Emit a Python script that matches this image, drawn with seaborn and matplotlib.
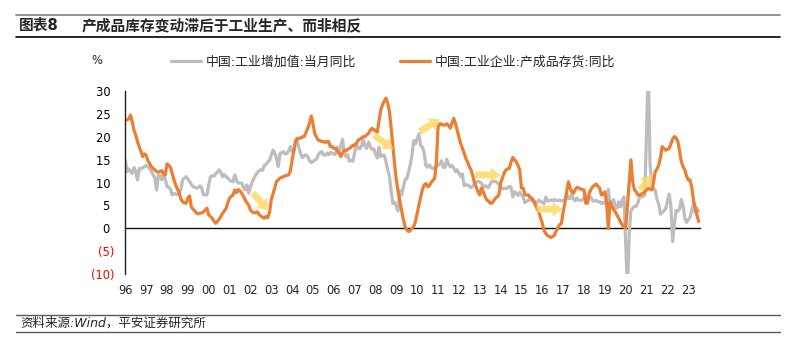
import numpy as np
import pandas as pd
import matplotlib
matplotlib.use("Agg")
import matplotlib.pyplot as plt
from matplotlib.lines import Line2D
import seaborn as sns

# ---------------- data ----------------
years = list(range(1996, 2024))
year_labels = [f"{y % 100:02d}" for y in years]
nan = np.nan

series_names = ["中国:工业增加值:当月同比", "中国:工业企业:产成品存货:同比"]

# 中国:工业增加值:当月同比 (monthly, Jan 1996 - Jul 2023)
ip_yoy = [
    15.0, 12.4, 13.0, 12.5, 12.0, 13.3, 12.5, 10.6, 13.1, 13.0, 13.3, 13.5,  # 1996
    13.8, 13.5, 13.1, 12.5, 11.7, 11.0, 8.4, 11.7, 11.5, 10.6, 12.0, 10.8,   # 1997
    9.1, 9.0, 8.5, 7.3, 7.6, 7.5, 7.4, 7.8, 8.5, 10.6, 11.0, 11.3,           # 1998
    10.8, 10.2, 9.6, 9.1, 9.0, 8.8, 8.9, 9.3, 8.8, 7.3, 7.4, 7.3,            # 1999
    9.5, 11.3, 11.5, 11.4, 11.9, 12.3, 12.8, 12.2, 11.3, 11.8, 11.3, 11.0,   # 2000
    10.6, 10.3, 10.2, 11.7, 10.5, 9.9, 9.9, 9.9, 9.0, 8.4, 9.5, 7.7,         # 2001
    9.0, 10.2, 10.9, 11.7, 12.2, 12.6, 12.8, 12.7, 13.8, 14.0, 14.5, 14.9,   # 2002
    16.0, 17.1, 16.5, 15.3, 13.5, 16.4, 16.5, 16.8, 16.3, 16.4, 17.0, 17.9,  # 2003
    16.8, 16.8, 19.4, 19.1, 17.5, 16.2, 15.5, 15.9, 16.1, 15.7, 14.8, 14.4,  # 2004
    14.6, 15.0, 15.1, 16.0, 16.6, 16.8, 16.1, 16.0, 16.5, 16.1, 16.6, 16.5,  # 2005
    16.2, 16.2, 17.8, 16.6, 17.9, 19.5, 16.7, 15.7, 16.1, 14.7, 14.9, 14.7,  # 2006
    nan, 18.5, 17.6, 17.4, 18.1, 19.4, 18.0, 17.5, 18.9, 17.9, 17.3, 17.4,   # 2007
    nan, 15.4, 17.8, 15.7, 16.0, 16.0, 14.7, 12.8, 11.4, 8.2, 5.4, 5.7,      # 2008
    nan, 3.8, 8.3, 7.3, 8.9, 10.7, 10.8, 12.3, 13.9, 16.1, 19.2, 18.5,       # 2009
    nan, 20.7, 18.1, 17.8, 16.5, 13.7, 13.4, 13.9, 13.3, 13.1, 13.3, 13.5,   # 2010
    nan, 14.1, 14.8, 13.4, 13.3, 15.1, 14.0, 13.5, 13.8, 13.2, 12.4, 12.8,   # 2011
    nan, 11.4, 11.9, 9.3, 9.6, 9.5, 9.2, 8.9, 9.2, 9.6, 10.1, 10.3,          # 2012
    nan, 9.9, 8.9, 9.3, 9.2, 8.9, 9.7, 10.4, 10.2, 10.3, 10.0, 9.7,          # 2013
    nan, 8.6, 8.8, 8.7, 8.8, 9.2, 9.0, 6.9, 8.0, 7.7, 7.2, 7.9,              # 2014
    nan, 6.8, 5.6, 5.9, 6.1, 6.8, 6.0, 6.1, 5.7, 5.6, 6.2, 5.9,              # 2015
    nan, 5.4, 6.8, 6.0, 6.0, 6.2, 6.0, 6.3, 6.1, 6.1, 6.2, 6.0,              # 2016
    nan, 6.3, 7.6, 6.5, 6.5, 7.6, 6.4, 6.0, 6.6, 6.2, 6.1, 6.2,              # 2017
    nan, 7.2, 6.0, 7.0, 6.8, 6.0, 6.0, 6.1, 5.8, 5.9, 5.4, 5.7,              # 2018
    nan, 5.3, 8.5, 5.4, 5.0, 6.3, 4.8, 4.4, 5.8, 4.7, 6.2, 6.9,              # 2019
    nan, -13.5, -1.1, 3.9, 4.4, 4.8, 4.8, 5.6, 6.9, 6.9, 7.0, 7.3,           # 2020
    nan, 35.1, 14.1, 9.8, 8.8, 8.3, 6.4, 5.3, 3.1, 3.5, 3.8, 4.3,            # 2021
    nan, 7.5, 5.0, -2.9, 0.7, 3.9, 3.8, 4.2, 6.3, 5.0, 2.2, 1.3,             # 2022
    nan, 2.4, 3.9, 5.6, 3.5, 4.4, 3.7,                                       # 2023
]

# 中国:工业企业:产成品存货:同比 (monthly, Jan 1996 - Jul 2023)
inv_yoy = [
    nan, 23.7, 24.0, 24.8, 23.3, 21.5, 20.4, 19.0, 17.9, 16.8, 15.7, 16.3,   # 1996
    16.0, 14.8, 14.2, 13.5, 13.1, 12.8, 12.4, 12.3, 12.5, 12.6, 12.0, 11.7,  # 1997
    14.1, 13.8, 13.4, 12.0, 10.6, 9.5, 8.6, 7.8, 6.4, 5.8, 5.6, 5.5,         # 1998
    6.6, 7.1, 4.7, 4.2, 3.8, 3.3, 3.2, 3.3, 3.4, 3.6, 4.0, 4.4,              # 1999
    2.9, 2.6, 2.2, 1.6, 1.1, 1.5, 2.0, 2.6, 3.3, 3.8, 4.4, 5.6,              # 2000
    6.6, 7.0, 7.3, 8.4, 7.8, 8.5, 8.2, 7.7, 7.0, 6.2, 5.6, 5.1,              # 2001
    4.0, 3.6, 3.4, 3.4, 3.6, 3.0, 2.7, 2.4, 2.2, 2.6, 2.3, 3.5,              # 2002
    6.2, 7.5, 8.8, 10.2, 10.6, 11.0, 11.2, 11.3, 11.5, 11.6, 11.7, 12.5,     # 2003
    15.0, 17.0, 19.0, 19.7, 19.7, 19.8, 20.0, 20.1, 21.0, 21.9, 23.0, 24.6,  # 2004
    23.0, 20.8, 20.0, 19.3, 19.2, 19.0, 19.0, 18.8, 19.0, 19.0, 17.9, 17.9,  # 2005
    17.5, 17.5, 17.0, 16.5, 15.7, 16.5, 17.1, 17.0, 17.3, 17.5, 17.8, 18.2,  # 2006
    18.2, 18.6, 19.3, 19.5, 19.8, 20.1, 20.1, 20.5, 20.8, 21.5, 21.9, 21.5,  # 2007
    21.5, 21.0, 23.5, 25.9, 27.0, 27.8, 28.5, 27.5, 25.6, 22.0, 17.9, 14.0,  # 2008
    10.6, 8.0, 6.0, 4.0, 2.0, 0.4, -0.3, -0.7, -0.5, 0.0, 0.4, 1.5,          # 2009
    3.3, 5.0, 6.9, 8.5, 9.5, 9.8, 9.1, 9.3, 10.0, 10.5, 10.9, 14.2,          # 2010
    22.2, 22.9, 22.8, 22.6, 22.6, 22.9, 22.5, 21.9, 23.0, 24.1, 23.0, 21.5,  # 2011
    20.0, 18.6, 17.5, 16.5, 15.3, 14.5, 13.5, 12.8, 11.5, 9.9, 9.0, 8.0,     # 2012
    7.3, 8.8, 8.0, 7.0, 6.2, 6.0, 5.5, 5.5, 6.0, 6.6, 6.9, 7.3,              # 2013
    9.9, 11.0, 12.0, 12.8, 13.0, 13.1, 14.5, 15.5, 15.0, 14.6, 13.8, 12.8,   # 2014
    8.8, 8.8, 7.3, 7.3, 7.3, 6.8, 6.6, 6.0, 5.1, 4.3, 3.6, 2.3,              # 2015
    1.1, -0.5, -1.1, -1.6, -1.8, -2.0, -1.8, -1.5, -0.6, 0.2, 0.8, 1.1,      # 2016
    3.5, 5.5, 8.0, 10.2, 8.8, 8.0, 7.7, 8.5, 9.0, 8.8, 8.6, 8.5,             # 2017
    8.4, 5.5, 5.5, 7.7, 8.5, 9.1, 9.4, 9.7, 9.2, 8.8, 7.3, 7.5,              # 2018
    8.0, 5.5, 0.0, 5.8, 4.7, 4.2, 3.6, 2.9, 2.2, 1.4, 0.7, 0.4,              # 2019
    0.0, 5.0, 10.0, 15.0, 10.2, 8.5, 8.0, 7.3, 7.3, 7.5, 7.7, 8.0,           # 2020
    8.4, 8.8, 8.6, 8.4, 10.0, 12.4, 13.0, 13.8, 15.5, 17.9, 17.5, 17.1,      # 2021
    17.3, 17.5, 18.5, 19.5, 20.1, 19.8, 19.0, 17.0, 14.6, 13.5, 12.8, 11.5,  # 2022
    10.6, 10.6, 9.0, 6.2, 4.5, 2.9, 1.5,                                     # 2023
]

# yellow annotation arrows: (x_start, y_start, x_end, y_end) in (year, %)
arrow_starts = [(2002.11, 7.7), (2007.93, 20.4), (2010.13, 21.2),
                (2012.77, 11.7), (2015.73, 4.2), (2020.69, 8.4)]
arrow_ends = [(2002.86, 4.0), (2008.85, 17.3), (2011.09, 23.9),
              (2014.00, 11.7), (2016.98, 4.2), (2021.25, 11.7)]

yticks = [-10, -5, 0, 5, 10, 15, 20, 25, 30]
ytick_labels = ["(10)", "(5)", "0 ", "5 ", "10 ", "15 ", "20 ", "25 ", "30 "]

# ---------------- frame ----------------
month_x = [y + m / 12 for y in years for m in range(12)]
df = pd.concat([
    pd.DataFrame({"x": month_x[:len(ip_yoy)], "value": ip_yoy, "series": series_names[0]}),
    pd.DataFrame({"x": month_x[:len(inv_yoy)], "value": inv_yoy, "series": series_names[1]}),
]).dropna()

# ---------------- style ----------------
sns.set_style("white")
plt.rcParams["font.family"] = ["DejaVu Sans", "Noto Sans CJK SC"]
plt.rcParams["axes.unicode_minus"] = False

W, H = 793, 346
fig = plt.figure(figsize=(W / 100, H / 100), dpi=100)
ax = fig.add_axes([125.3 / W, 1 - 274 / H, (700 - 125.3) / W, (274 - 91.3) / H])

palette = {series_names[0]: "#BDBDBD", series_names[1]: "#ED7D31"}
sns.lineplot(data=df, x="x", y="value", hue="series", hue_order=series_names,
             palette=palette, estimator=None, sort=False, linewidth=2.3,
             ax=ax, legend=True)

x_end = 1996 + (700 - 125.3) / 20.85
ax.set_xlim(1996.0, x_end)
ax.set_ylim(-10, 30)
ax.set_xlabel("")
ax.set_ylabel("")

for s in ["top", "right"]:
    ax.spines[s].set_visible(False)
ax.spines["left"].set_color("#222222")
ax.spines["left"].set_linewidth(1.0)
ax.spines["bottom"].set_position(("data", 0))
ax.spines["bottom"].set_color("#111111")
ax.spines["bottom"].set_linewidth(1.0)
ax.spines["bottom"].set_zorder(1)

ax.set_xticks(years)
ax.tick_params(axis="x", direction="in", length=2.6, width=0.9, color="#111111",
               labelbottom=False)
ax.set_yticks(yticks)
ax.set_yticklabels(ytick_labels)
ax.tick_params(axis="y", direction="in", length=3.3, width=0.9, color="#222222",
               pad=8, labelsize=8.3)
for lab, v in zip(ax.get_yticklabels(), yticks):
    lab.set_color("#FF0000" if v < 0 else "#000000")

sec = ax.secondary_xaxis("bottom")
sec.set_xticks(years)
sec.set_xticklabels(year_labels)
sec.tick_params(length=0, pad=7.5, labelsize=8.3)
sec.spines["bottom"].set_visible(False)

# arrows
for (xs, ys), (xe, ye) in zip(arrow_starts, arrow_ends):
    ax.annotate("", xy=(xe, ye), xytext=(xs, ys),
                arrowprops=dict(arrowstyle="simple,head_length=0.9,head_width=1.3,tail_width=0.6",
                                color="#FFD966", alpha=0.85, lw=0,
                                shrinkA=0, shrinkB=0, mutation_scale=8),
                zorder=4)

# legend
handles, labels = ax.get_legend_handles_labels()
ax.legend_.remove()
fig.legend(handles, labels, loc="center left", bbox_to_anchor=(171 / W, 1 - 62 / H),
           ncol=2, frameon=False, fontsize=9.3, handlelength=2.3, handletextpad=0.4,
           columnspacing=3.4, borderpad=0, borderaxespad=0)

fig.text(96.7 / W, 1 - 60.5 / H, "%", ha="center", va="center", fontsize=8.3)

# title block
fig.add_artist(Line2D([16 / W, 780 / W], [1 - 15 / H, 1 - 15 / H], color="#7F7F7F", lw=1.2))
fig.add_artist(Line2D([16 / W, 780 / W], [1 - 36.5 / H, 1 - 36.5 / H], color="#000000", lw=1.2))
fig.text(19 / W, 1 - 25.5 / H, "图表8", ha="left", va="center", fontsize=10.6,
         fontweight="bold")
fig.text(82 / W, 1 - 25.5 / H, "产成品库存变动滞后于工业生产、而非相反", ha="left",
         va="center", fontsize=10.6, fontweight="bold")

# footer
fig.add_artist(Line2D([16 / W, 780 / W], [1 - 315 / H, 1 - 315 / H], color="#595959", lw=1.0))
fig.add_artist(Line2D([16 / W, 780 / W], [1 - 331.7 / H, 1 - 331.7 / H], color="#595959", lw=1.0))
fig.text(20.7 / W, 1 - 323.3 / H, "资料来源:Wind，平安证券研究所", ha="left", va="center",
         fontsize=9.0, style="italic")

fig.savefig("out.png", dpi=100)
